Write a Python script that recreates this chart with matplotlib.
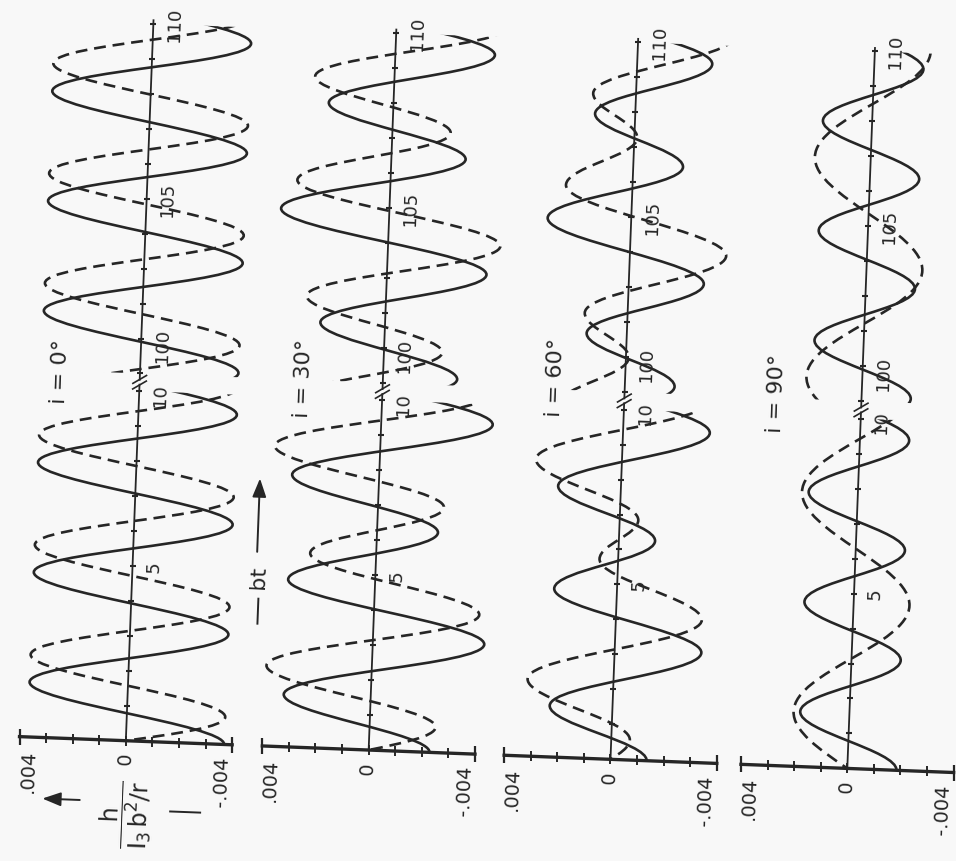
"""h / (I3 b^2/r) against bt for i = 0, 30, 60, 90 deg, laid out like the
scanned plate: turned a quarter turn and skewed a little clockwise."""
import matplotlib

matplotlib.use("Agg")
import matplotlib.pyplot as plt
from matplotlib.lines import Line2D
from matplotlib.patches import FancyArrowPatch, PathPatch, Polygon
from matplotlib.path import Path
from matplotlib.transforms import Affine2D

W, H = 956, 861
INK = "#262626"
PAPER = "#f8f8f8"
SKEW = -2.2          # scan is turned slightly clockwise
BT_PX = 35.0         # pixels per unit of bt
H_PX = 26.6          # pixels per 0.001 of h
BASE_Y = 754         # pixel row of bt = 0
AXIS_X = [138, 381, 623, 860]
GAP = 0.5            # axis room used by the 10 / 100 break
K = 0.3634           # bezier handle giving a half cosine

INCLINATIONS = ["0", "30", "60", "90"]
BT_TICKS = list(range(0, 11)) + list(range(100, 111))
BT_LABELS = ["5", "10", "100", "105", "110"]
BT_LABEL_AT = [5, 10, 100, 105, 110]
H_TICKS = [-4, -3, -2, -1, 0, 1, 2, 3, 4]          # units of 0.001
H_LABELS = ["-.004", "0", ".004"]
H_LABEL_AT = [-4, 0, 4]

# extrema (bt, h in units of 0.001), one beyond each end
SOLID_0_LOW = [(0.0, -3.7), (1.571, 3.7), (3.142, -3.7), (4.712, 3.7), (6.283, -3.7),
               (7.854, 3.7), (9.425, -3.7), (10.996, 3.7)]
DASH_0_LOW = [(-0.785, 3.7), (0.785, -3.7), (2.356, 3.7), (3.927, -3.7), (5.498, 3.7),
              (7.069, -3.7), (8.639, 3.7), (10.21, -3.7)]
SOLID_0_HIGH = [(98.55, 3.7), (100.12, -3.7), (101.69, 3.7), (103.26, -3.7), (104.83, 3.7),
                (106.40, -3.7), (107.97, 3.7), (109.54, -3.7), (111.11, 3.7)]
DASH_0_HIGH = [(99.34, 3.7), (100.91, -3.7), (102.48, 3.7), (104.05, -3.7), (105.62, 3.7),
               (107.19, -3.7), (108.76, 3.7), (110.33, -3.7)]

SOLID_30_LOW = [(0.0, -2.29), (1.497, 3.27), (3.142, -4.19), (4.786, 3.27), (6.283, -2.29),
                (7.781, 3.27), (9.425, -4.19), (11.07, 3.27)]
DASH_30_LOW = [(-0.724, 2.48), (0.724, -2.48), (2.302, 3.96), (3.982, -3.96), (5.559, 2.48),
               (7.007, -2.48), (8.585, 3.96), (10.265, -3.96)]
SOLID_30_HIGH = [(98.59, 4.07), (100.18, -2.79), (101.66, 2.43), (103.20, -3.74),
                 (104.87, 4.07), (106.47, -2.79), (107.94, 2.43), (109.48, -3.74),
                 (111.15, 4.07)]
DASH_30_HIGH = [(99.42, 3.50), (100.93, -2.19), (102.40, 2.98), (104.03, -4.22),
                (105.70, 3.50), (107.21, -2.19), (108.68, 2.98), (110.31, -4.22)]

SOLID_60_LOW = [(0.0, -1.36), (1.468, 2.36), (3.142, -3.26), (4.815, 2.36), (6.283, -1.36),
                (7.751, 2.36), (9.425, -3.26), (11.098, 2.36)]
DASH_60_LOW = [(-0.573, 0.70), (0.573, -0.70), (2.208, 3.23), (4.076, -3.23), (5.710, 0.70),
               (6.856, -0.70), (8.491, 3.23), (10.359, -3.23)]
SOLID_60_HIGH = [(98.60, 3.14), (100.21, -1.87), (101.64, 1.51), (103.17, -2.82),
                 (104.89, 3.14), (106.49, -1.87), (107.92, 1.51), (109.46, -2.82),
                 (111.17, 3.14)]
DASH_60_HIGH = [(99.56, 2.50), (100.99, -0.11), (102.22, 1.61), (104.00, -3.62),
                (105.85, 2.50), (107.27, -0.11), (108.50, 1.61), (110.28, -3.62)]

SOLID_90_LOW = [(0.0, -1.85), (1.571, 1.85), (3.142, -1.85), (4.712, 1.85), (6.283, -1.85),
                (7.854, 1.85), (9.425, -1.85), (10.996, 1.85)]
DASH_90_LOW = [(-1.571, -2.1), (1.571, 2.1), (4.712, -2.1), (7.854, 2.1), (10.996, -2.1)]
SOLID_90_HIGH = [(98.55, 1.85), (100.12, -1.85), (101.69, 1.85), (103.26, -1.85),
                 (104.83, 1.85), (106.40, -1.85), (107.97, 1.85), (109.54, -1.85),
                 (111.11, 1.85)]
DASH_90_HIGH = [(97.51, -2.1), (100.65, 2.1), (103.79, -2.1), (106.93, 2.1), (110.07, -2.1)]

PANELS = [
    (SOLID_0_LOW, SOLID_0_HIGH, DASH_0_LOW, DASH_0_HIGH),
    (SOLID_30_LOW, SOLID_30_HIGH, DASH_30_LOW, DASH_30_HIGH),
    (SOLID_60_LOW, SOLID_60_HIGH, DASH_60_LOW, DASH_60_HIGH),
    (SOLID_90_LOW, SOLID_90_HIGH, DASH_90_LOW, DASH_90_HIGH),
]
LABEL_SPOT = [(3.0, 10.46), (3.0, 10.54), (2.63, 10.83), (3.2, 10.64)]


def to_u(bt):
    """bt onto the broken axis: 0..10 then 100..110 after a short gap."""
    return bt if bt < 50 else bt - 100 + 10 + GAP


def wave_path(points):
    verts, codes = [], []
    for k, (t, h) in enumerate(points):
        u = to_u(t)
        if k == 0:
            verts.append((h, u))
            codes.append(Path.MOVETO)
            continue
        t0, h0 = points[k - 1]
        u0 = to_u(t0)
        d = K * (u - u0)
        verts += [(h0, u0 + d), (h, u - d), (h, u)]
        codes += [Path.CURVE4] * 3
    return Path(verts, codes)


def line(ax, x, y, T, **kw):
    ln = Line2D(x, y, color=INK, transform=T, clip_on=False, **kw)
    ax.add_artist(ln)
    return ln


fig = plt.figure(figsize=(W / 100, H / 100), dpi=100, facecolor=PAPER)
rot = Affine2D().rotate_deg_around(W / 2, H / 2, SKEW)
pix = Affine2D().scale(1, -1).translate(0, H) + rot
angle = 90 + SKEW

for k, x0 in enumerate(AXIS_X):
    left = x0 - 4.5 * H_PX
    bottom = H - BASE_Y - 3 * BT_PX
    ax = fig.add_axes([left / W, bottom / H, 9 * H_PX / W, 24.5 * BT_PX / H])
    ax.set_xlim(4.5, -4.5)
    ax.set_ylim(-3, 21.5)
    ax.set_autoscale_on(False)
    ax.axis("off")
    T = ax.transData + rot

    s_lo, s_hi, d_lo, d_hi = PANELS[k]
    for pts, dashed in [(s_lo, False), (s_hi, False), (d_lo, True), (d_hi, True)]:
        lo, hi = (0, 10) if pts[1][0] < 50 else (10 + GAP, 20 + GAP)
        patch = PathPatch(wave_path(pts), fill=False, edgecolor=INK, lw=1.9,
                          linestyle=(0, (4.5, 2.6)) if dashed else "-",
                          capstyle="butt", transform=T)
        patch.set_clip_path(Polygon([(-9, lo), (9, lo), (9, hi), (-9, hi)],
                                    closed=True, transform=T))
        ax.add_artist(patch)

    # broken bt axis along h = 0
    line(ax, [0, 0], [0, 10.18], T, lw=1.3)
    line(ax, [0, 0], [10.32, 20.6], T, lw=1.3)
    for c in (10.17, 10.33):
        line(ax, [0.25, -0.25], [c - 0.12, c + 0.12], T, lw=1.2)
    line(ax, [0] * len(BT_TICKS), [to_u(b) for b in BT_TICKS], T,
         ls="none", marker="_", ms=5, mew=1.5)

    # h axis at bt = 0
    line(ax, [H_TICKS[0], H_TICKS[-1]], [0, 0], T, lw=2.4)
    line(ax, H_TICKS, [0] * len(H_TICKS), T, ls="none", marker="|", ms=7, mew=1.4)
    line(ax, [H_TICKS[0], H_TICKS[-1]], [0, 0], T, ls="none", marker="|", ms=11, mew=1.6)

    for lab, hv in zip(H_LABELS, H_LABEL_AT):
        nudge = -0.09 * hv          # end labels sit a little inside the ends
        ax.text(hv + nudge, -0.35, lab, transform=T, rotation=angle,
                rotation_mode="anchor", ha="right", va="center", fontsize=14, color=INK)
    for lab, bt in zip(BT_LABELS, BT_LABEL_AT):
        shift = {10: -0.1, 100: 0.8}.get(bt, 0.0)
        ax.text(-0.8, to_u(bt) + shift, lab, transform=T, rotation=angle,
                rotation_mode="anchor", ha="center", va="center", fontsize=13, color=INK)

    hx, ux = LABEL_SPOT[k]
    ax.text(hx, ux, f"i = {INCLINATIONS[k]}°", transform=T, rotation=angle,
            rotation_mode="anchor", ha="center", va="center", fontsize=16, color=INK)

# bt direction, between the first two panels
fig.text(264, 586, "bt", transform=pix, rotation=angle, rotation_mode="anchor",
         ha="center", va="center", fontsize=16, color=INK)
fig.add_artist(FancyArrowPatch((262, 563), (262, 484), transform=pix,
                               arrowstyle="-|>,head_length=0.8,head_width=0.3",
                               mutation_scale=14, lw=1.4, color=INK))
fig.add_artist(Line2D([265, 265], [607, 632], transform=pix, color=INK, lw=1.4))

# h label, below the first panel
fig.text(141, 828, r"$\dfrac{\mathrm{h}}{\mathrm{I_3\,b^2/r}}$", transform=pix,
         rotation=angle, rotation_mode="anchor", ha="center", va="center",
         fontsize=17, color=INK)
fig.add_artist(FancyArrowPatch((97, 815), (54, 815), transform=pix,
                               arrowstyle="-|>,head_length=0.8,head_width=0.3",
                               mutation_scale=14, lw=1.4, color=INK))
fig.add_artist(Line2D([185, 215], [823, 823], transform=pix, color=INK, lw=1.4))

fig.savefig("out.png", dpi=100, facecolor=PAPER)
